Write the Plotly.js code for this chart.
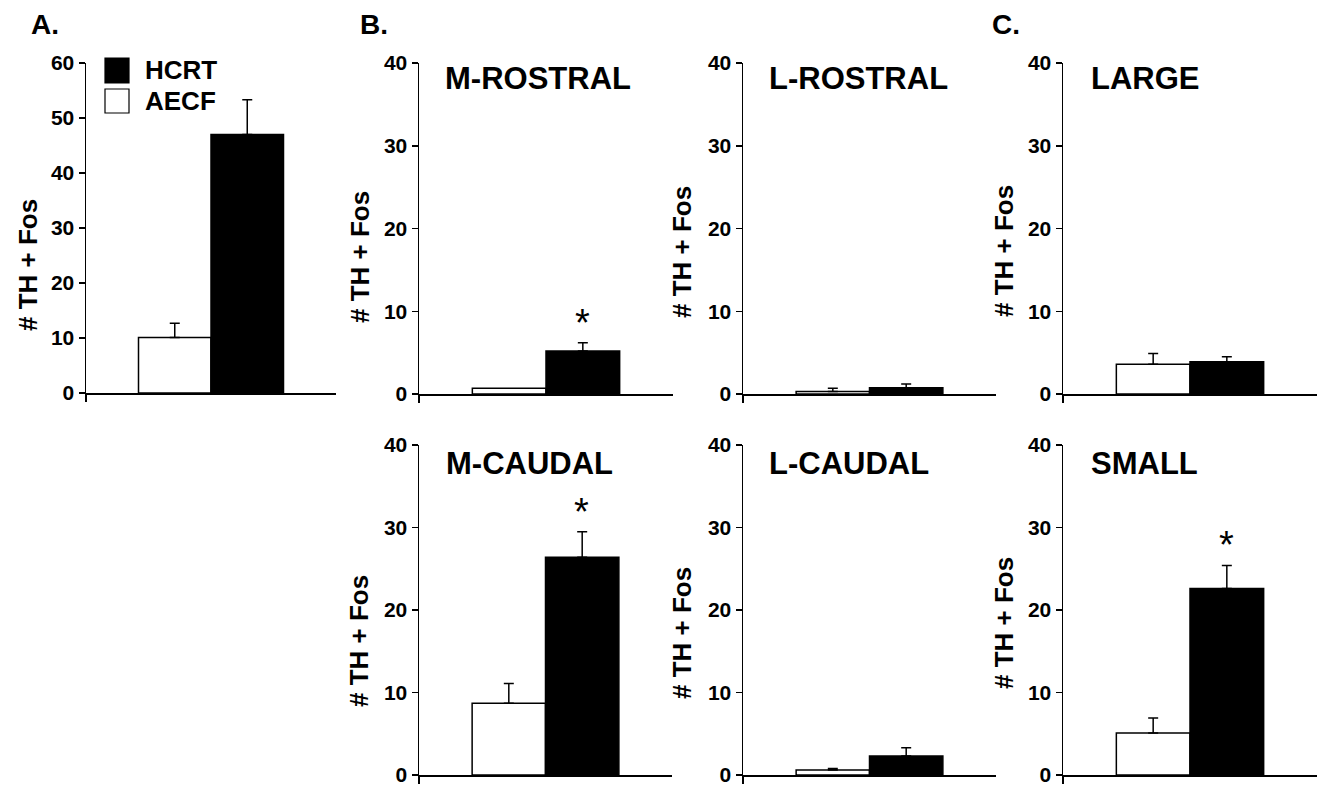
<!DOCTYPE html>
<html>
<head>
<meta charset="utf-8">
<script src="https://cdn.plot.ly/plotly-3.0.1.min.js"></script>
<style>html,body{margin:0;padding:0;background:#fff;}#chart{width:1326px;height:787px;}</style>
</head>
<body>
<div id="chart"></div>
<script>
// ---- data ----
const panelTitles = ["", "M-ROSTRAL", "L-ROSTRAL", "LARGE", "M-CAUDAL", "L-CAUDAL", "SMALL"];
const seriesNames = ["HCRT", "AECF"];
const aecfMean = [10.1, 0.7, 0.3, 3.6, 8.7, 0.6, 5.1];
const aecfErr  = [2.6, 0.0, 0.4, 1.3, 2.4, 0.2, 1.8];
const hcrtMean = [47.0, 5.2, 0.75, 3.9, 26.4, 2.3, 22.6];
const hcrtErr  = [6.3, 1.0, 0.45, 0.6, 3.1, 1.0, 2.8];
const significant = [false, true, false, false, true, false, true];
const yMax = [60, 40, 40, 40, 40, 40, 40];
const yTitle = "# TH + Fos";
const panelLetters = ["A.", "B.", "C."];
const category = ["group"];

// ---- layout geometry (pixels) ----
const W = 1326, H = 787;
const px = v => v / W, py = v => 1 - v / H;
const geo = [
  {x0: 86,   x1: 336,  yb: 393, yt: 63,  tx: 28,   ty: 265, rightTick: false, titleX: 0,    titleY: 0},
  {x0: 419,  x1: 673,  yb: 394, yt: 63,  tx: 360,  ty: 257, rightTick: false, titleX: 443,  titleY: 79},
  {x0: 743,  x1: 996,  yb: 394, yt: 63,  tx: 682,  ty: 252, rightTick: false, titleX: 767,  titleY: 79},
  {x0: 1063, x1: 1317, yb: 394, yt: 63,  tx: 1004, ty: 251, rightTick: true,  titleX: 1089, titleY: 79},
  {x0: 419,  x1: 672,  yb: 775, yt: 445, tx: 359,  ty: 641, rightTick: false, titleX: 444,  titleY: 463},
  {x0: 743,  x1: 996,  yb: 775, yt: 445, tx: 682,  ty: 633, rightTick: false, titleX: 767,  titleY: 463},
  {x0: 1063, x1: 1317, yb: 775, yt: 445, tx: 1004, ty: 623, rightTick: true,  titleX: 1089, titleY: 463}
];

const FONT = "Arial, 'Liberation Sans', sans-serif";
const traces = [];
const layout = {
  width: W, height: H,
  margin: {l: 0, r: 0, t: 0, b: 0},
  paper_bgcolor: "#fff", plot_bgcolor: "rgba(0,0,0,0)",
  showlegend: false,
  barmode: "group", bargap: 0.42, bargroupgap: 0,
  font: {family: FONT, color: "#000"},
  annotations: [], shapes: []
};

geo.forEach((g, i) => {
  const n = i + 1;
  const xa = n === 1 ? "x" : "x" + n;
  const ya = n === 1 ? "y" : "y" + n;
  const xk = n === 1 ? "xaxis" : "xaxis" + n;
  const yk = n === 1 ? "yaxis" : "yaxis" + n;

  traces.push({
    type: "bar", x: category, y: [aecfMean[i]], name: seriesNames[1],
    xaxis: xa, yaxis: ya,
    marker: {color: "#ffffff", line: {color: "#000", width: 1.5}},
    error_y: {type: "data", array: [aecfErr[i]], arrayminus: [0], symmetric: false,
              color: "#000", thickness: 1.5, width: 5, visible: aecfErr[i] > 0},
    hoverinfo: "y"
  });
  traces.push({
    type: "bar", x: category, y: [hcrtMean[i]], name: seriesNames[0],
    xaxis: xa, yaxis: ya,
    marker: {color: "#000000", line: {color: "#000", width: 1.5}},
    error_y: {type: "data", array: [hcrtErr[i]], arrayminus: [0], symmetric: false,
              color: "#000", thickness: 1.5, width: 5},
    hoverinfo: "y"
  });

  const xaxis = {
    domain: [px(g.x0), px(g.x1)], anchor: ya, type: "category",
    range: [-0.5, 0.5], showline: true, linecolor: "#000", linewidth: 1.5,
    ticks: "outside", ticklen: 7, tickwidth: 1.5, tickcolor: "#000",
    showticklabels: false, showgrid: false, zeroline: false, fixedrange: true
  };
  if (g.rightTick) {
    xaxis.tickson = "boundaries";
  } else {
    xaxis.tickmode = "array"; xaxis.tickvals = [-0.5]; xaxis.ticktext = [""];
  }
  layout[xk] = xaxis;
  layout[yk] = {
    domain: [py(g.yb), py(g.yt)], anchor: xa, range: [0, yMax[i]], dtick: 10, tick0: 0,
    showline: true, linecolor: "#000", linewidth: 1.5,
    ticks: "outside", ticklen: 6, tickwidth: 1.5, tickcolor: "#000",
    tickfont: {family: FONT, size: 21, weight: "bold", color: "#000"},
    ticklabeloverflow: "allow",
    showgrid: false, zeroline: false, fixedrange: true
  };

  // y axis title (rotated)
  layout.annotations.push({
    xref: "paper", yref: "paper", x: px(g.tx), y: py(g.ty),
    text: yTitle, textangle: -90, showarrow: false,
    xanchor: "center", yanchor: "middle",
    font: {family: FONT, size: 26, weight: "bold", color: "#000"}
  });
  // panel title
  if (panelTitles[i]) {
    layout.annotations.push({
      xref: "paper", yref: "paper", x: px(g.titleX), y: py(g.titleY),
      text: panelTitles[i], showarrow: false, xanchor: "left", yanchor: "middle",
      font: {family: FONT, size: 31, weight: "bold", color: "#000"}
    });
  }
  // significance asterisk
  if (significant[i]) {
    layout.annotations.push({
      xref: xa, yref: ya, x: category[0], y: hcrtMean[i] + hcrtErr[i],
      xshift: 36, yshift: -3,
      text: "*", showarrow: false, xanchor: "center", yanchor: "bottom",
      font: {family: FONT, size: 38, color: "#000"}
    });
  }
});

// panel letters
[[29, 24], [358, 24], [990, 24]].forEach((p, k) => {
  layout.annotations.push({
    xref: "paper", yref: "paper", x: px(p[0]), y: py(p[1]),
    text: panelLetters[k], showarrow: false, xanchor: "left", yanchor: "middle",
    font: {family: FONT, size: 28, weight: "bold", color: "#000"}
  });
});

// legend drawn in panel A
const legendItems = [
  {name: seriesNames[0], fill: "#000", y0: 58, y1: 83},
  {name: seriesNames[1], fill: "#fff", y0: 89, y1: 113}
];
legendItems.forEach(it => {
  layout.shapes.push({
    type: "rect", xref: "paper", yref: "paper",
    x0: px(105), x1: px(129), y0: py(it.y1), y1: py(it.y0),
    fillcolor: it.fill, line: {color: "#000", width: 1.2}
  });
  layout.annotations.push({
    xref: "paper", yref: "paper", x: px(143), y: py((it.y0 + it.y1) / 2),
    text: it.name, showarrow: false, xanchor: "left", yanchor: "middle",
    font: {family: FONT, size: 26, weight: "bold", color: "#000"}
  });
});

Plotly.newPlot("chart", traces, layout, {displayModeBar: false, staticPlot: true});
</script>
</body>
</html>
